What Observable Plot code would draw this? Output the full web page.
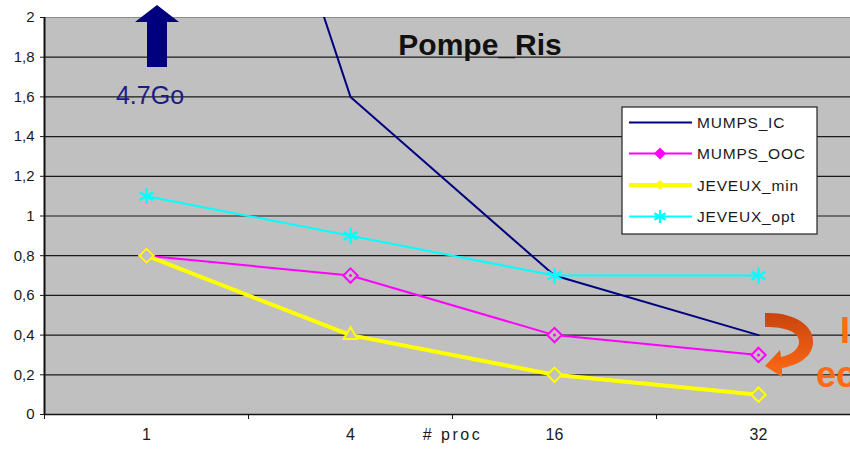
<!DOCTYPE html>
<html><head><meta charset="utf-8">
<script src="https://cdn.jsdelivr.net/npm/d3@7"></script>
<script src="https://cdn.jsdelivr.net/npm/@observablehq/plot@0.6"></script>
<style>
body{margin:0;background:#fff;overflow:hidden;width:850px;height:454px}
#chart{position:relative;width:850px;height:454px}
</style>
</head><body><div id="chart"></div>
<script>
// ---- data ----
const categories = ["1", "4", "16", "32"];
const mumpsIC   = [4.7, 1.6, 0.7, 0.4];
const mumpsOOC  = [0.8, 0.7, 0.4, 0.3];
const jeveuxMin = [0.8, 0.4, 0.2, 0.1];
const jeveuxOpt = [1.1, 0.9, 0.7, 0.7];
const jeveuxMinSymbols = ["diamond2", "triangle2", "diamond2", "diamond2"];
const yTicks = [0, 0.2, 0.4, 0.6, 0.8, 1, 1.2, 1.4, 1.6, 1.8, 2];
const seriesNames = ["MUMPS_IC", "MUMPS_OOC", "JEVEUX_min", "JEVEUX_opt"];
const seriesColors = ["#000080", "#ff00ff", "#ffff00", "#00ffff"];
const xLabel = "# proc";
const title = "Pompe_Ris";
const arrowLabel = "4.7Go";
const sideText = ["I", "ec"];

const rows = v => v.map((val, i) => ({i, v: val}));
const fmt = d => String(d).replace(".", ",");

const plot = Plot.plot({
  width: 850, height: 454,
  marginTop: 17, marginBottom: 40, marginLeft: 44, marginRight: 0,
  style: {fontFamily: "'Liberation Sans', Arial, sans-serif", fontSize: "14px", color: "#1a1a1a", background: "#fff"},
  x: {domain: [-0.5, 3.5], range: [44, 860], ticks: [-0.5, 0.5, 1.5, 2.5], tickFormat: () => "", tickSize: 5, label: null},
  y: {domain: [0, 2], range: [414, 17], ticks: yTicks, tickFormat: fmt, tickSize: 4, tickPadding: 6, label: null},
  marks: [
    Plot.frame({fill: "#c0c0c0", stroke: "#8c8c8c"}),
    Plot.ruleY(yTicks.filter(t => t > 0 && t < 2), {stroke: "#1a1a1a", strokeWidth: 1.2}),
    Plot.ruleY([0], {stroke: "#111", strokeWidth: 1.5}),
    Plot.ruleX([-0.5], {stroke: "#111", strokeWidth: 2}),
    Plot.line(rows(mumpsIC), {x: "i", y: "v", stroke: seriesColors[0], strokeWidth: 2, clip: "frame"}),
    Plot.line(rows(mumpsOOC), {x: "i", y: "v", stroke: seriesColors[1], strokeWidth: 2}),
    Plot.dot(rows(mumpsOOC), {x: "i", y: "v", symbol: "diamond2", r: 6.5, stroke: seriesColors[1], strokeWidth: 2, fill: "#c0c0c0"}),
    Plot.dot(rows(mumpsOOC), {x: "i", y: "v", r: 1.5, fill: seriesColors[1]}),
    Plot.line(rows(jeveuxMin), {x: "i", y: "v", stroke: seriesColors[2], strokeWidth: 4}),
    Plot.dot(rows(jeveuxMin), {x: "i", y: "v", symbol: (d, i) => jeveuxMinSymbols[i], r: 6.5, stroke: seriesColors[2], strokeWidth: 2, fill: "#c0c0c0"}),
    Plot.line(rows(jeveuxOpt), {x: "i", y: "v", stroke: seriesColors[3], strokeWidth: 2}),
    Plot.dot(rows(jeveuxOpt), {x: "i", y: "v", symbol: "asterisk", r: 7.5, stroke: seriesColors[3], strokeWidth: 2.4}),
    Plot.text(categories, {x: (d, i) => i, frameAnchor: "bottom", dy: 25, fontSize: 16, fill: "#1a1a1a"}),
    Plot.text([xLabel], {x: [1.5], frameAnchor: "bottom", dy: 25, fontSize: 16, fill: "#1a1a1a"})
  ]
});
document.getElementById("chart").appendChild(plot);

const svg = d3.select(plot);
svg.selectAll("text").filter(function(){ return this.textContent === xLabel; }).style("letter-spacing", "2.5px");
svg.selectAll("text").filter(function(){ return yTicks.map(fmt).includes(this.textContent) && !categories.includes(this.textContent); })
  .style("font-size", "15px");
svg.selectAll("text").filter(function(){ return this.textContent === "1" || this.textContent === "2" || this.textContent === "0"; })
  .filter(function(){ return this.closest("g[aria-label*='y-axis']"); }).style("font-size", "15px");
svg.selectAll("text").filter(function(){ return (categories.includes(this.textContent) || this.textContent === xLabel) && !this.closest("g[aria-label*='y-axis']"); })
  .style("font-size", "16px");
const xs = plot.scale("x");

// title
svg.append("text").attr("x", 480).attr("y", 55).attr("text-anchor", "middle")
  .attr("font-size", 30).attr("font-weight", "bold").attr("fill", "#111").text(title);

// navy up arrow + label above category "1"
const ax = xs.apply(0) + 11;
svg.append("path").attr("fill", "#00007f")
  .attr("d", `M${ax} 5 L${ax + 22} 22 L${ax + 10} 22 L${ax + 10} 67 L${ax - 10} 67 L${ax - 10} 22 L${ax - 22} 22 Z`);
svg.append("text").attr("x", ax - 7).attr("y", 104).attr("text-anchor", "middle")
  .attr("font-size", 25).attr("fill", "#1c1c84").text(arrowLabel);

// legend
const lg = svg.append("g");
lg.append("rect").attr("x", 622).attr("y", 107).attr("width", 195).attr("height", 127)
  .attr("fill", "#fff").attr("stroke", "#222").attr("stroke-width", 1.2);
const ly = [122.5, 153.5, 185, 216.5];
seriesNames.forEach((name, k) => {
  const y = ly[k];
  lg.append("line").attr("x1", 629).attr("x2", 692).attr("y1", y).attr("y2", y)
    .attr("stroke", seriesColors[k]).attr("stroke-width", k === 2 ? 4 : 2);
  if (k === 1 || k === 2) {
    const s = k === 1 ? 6 : 5;
    lg.append("path").attr("d", `M660 ${y - s} L${660 + s} ${y} L660 ${y + s} L${660 - s} ${y} Z`).attr("fill", seriesColors[k]);
  }
  if (k === 3) {
    lg.append("path").attr("transform", `translate(660,${y})`)
      .attr("d", d3.symbol(d3.symbolAsterisk, 120)()).attr("stroke", seriesColors[k]).attr("stroke-width", 2.2);
  }
  lg.append("text").attr("x", 697).attr("y", y + 5.5).attr("font-size", 15.5).attr("text-anchor", "start")
    .style("letter-spacing", "0.8px").attr("fill", "#1a1a1a").text(name);
});

// orange curved arrow + side text (cut by the page edge, as in the reference)
const defs = svg.append("defs");
const grad = defs.append("linearGradient").attr("id", "og").attr("x1", 0).attr("y1", 0).attr("x2", 0).attr("y2", 1);
grad.append("stop").attr("offset", "0%").attr("stop-color", "#c8440e");
grad.append("stop").attr("offset", "100%").attr("stop-color", "#ff6a14");
svg.append("path").attr("fill", "url(#og)")
  .attr("d", "M765 313 C795 312 815 326 813 344 C811 358 798 365 782 368 L782 377 L765 366 L780 350 L781 357 C792 355 798 349 799 343 C800 333 788 327 765 327 Z");
svg.append("text").attr("x", 840).attr("y", 343).attr("font-size", 36).attr("font-weight", "bold").attr("text-anchor", "start").attr("fill", "#ff6a13").text(sideText[0]);
svg.append("text").attr("x", 816).attr("y", 387).attr("font-size", 36).attr("font-weight", "bold").attr("text-anchor", "start").attr("fill", "#ff6a13").text(sideText[1]);
</script>
</body></html>
